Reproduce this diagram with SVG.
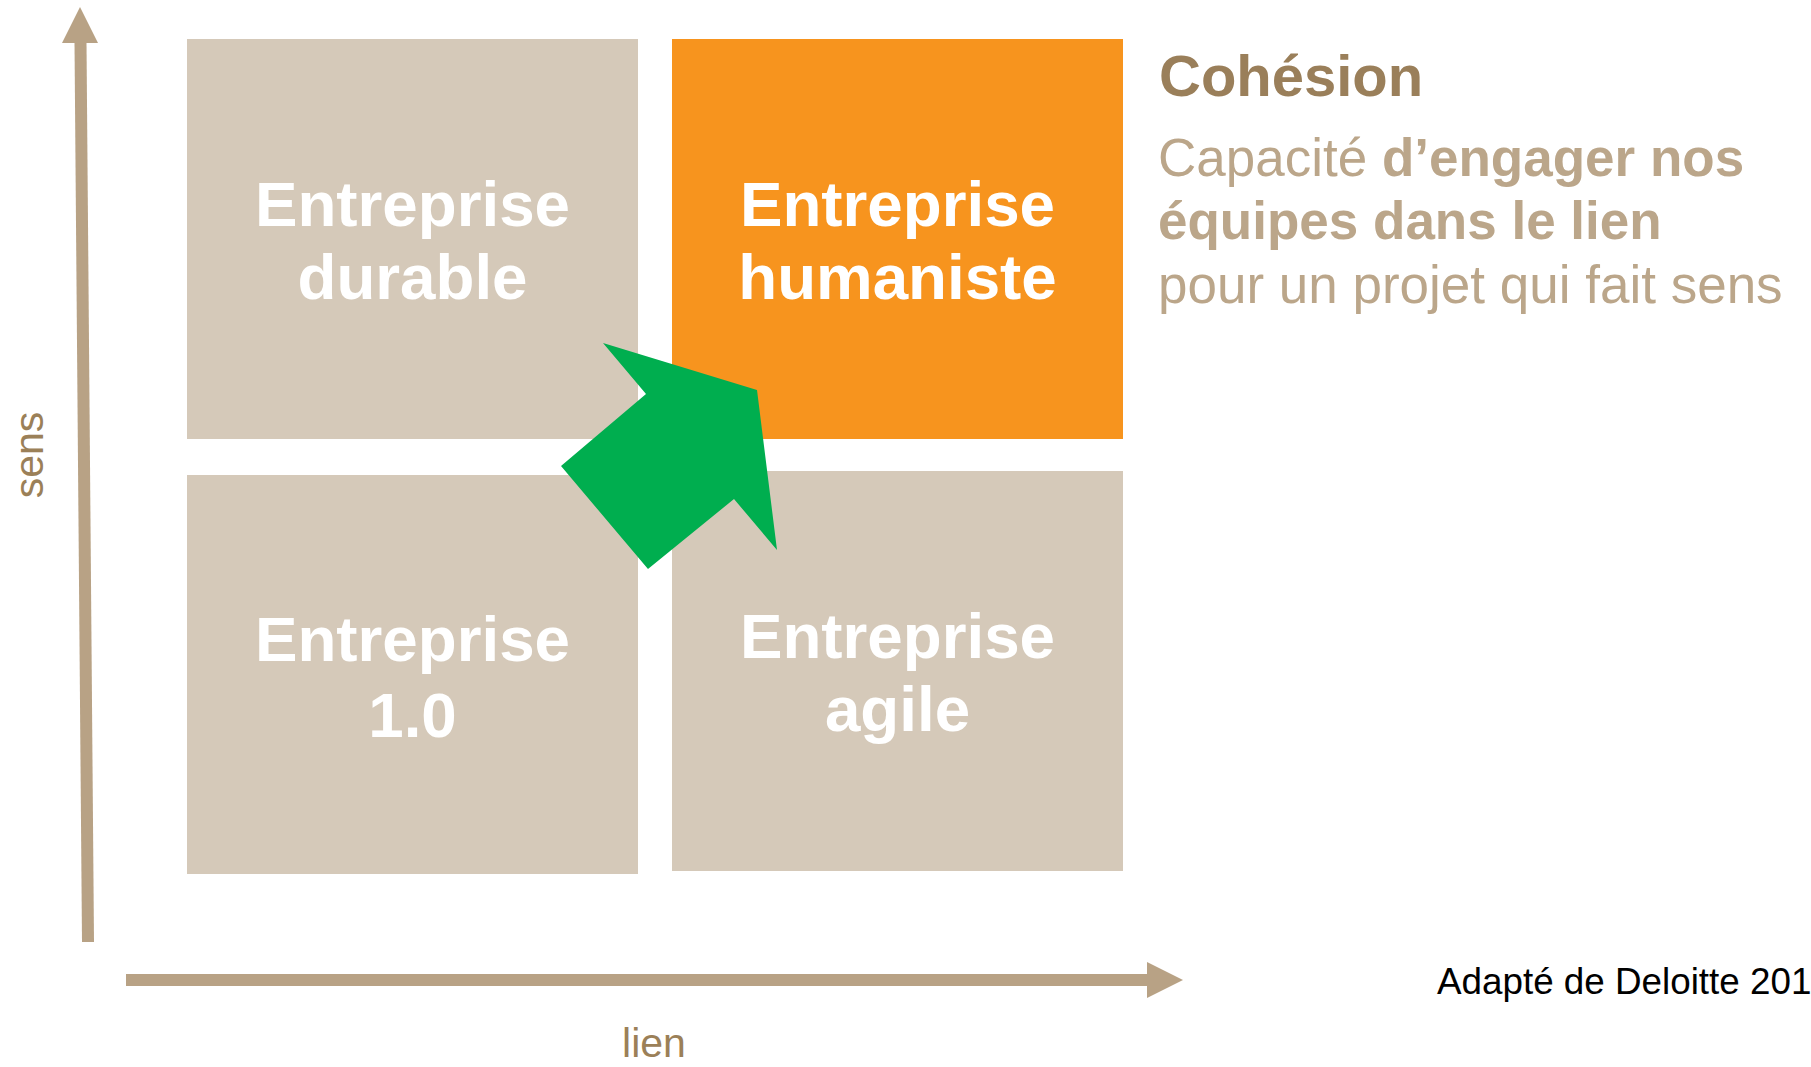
<svg xmlns="http://www.w3.org/2000/svg" width="1811" height="1067" viewBox="0 0 1811 1067">
<style>
.box{fill:#D5C9B9}
.hl{fill:#F7941E}
.bt{font-family:"Liberation Sans",Arial,sans-serif;font-weight:bold;font-size:63.7px;fill:#FFFFFF;text-anchor:middle}
.ax{fill:#B8A285}
.axl{font-family:"Liberation Sans",Arial,sans-serif;font-size:41px;fill:#9B8058}
.side{font-family:"Liberation Sans",Arial,sans-serif;font-size:53px;fill:#BBA68A}
</style>
<rect width="1811" height="1067" fill="#FFFFFF"/>
<g id="axes">
<polygon class="ax" points="74.5,43 86.5,43 94,942 82,942"/>
<polygon class="ax" points="80,7 98,43 62,43"/>
<rect class="ax" x="126" y="974" width="1022" height="12"/>
<polygon class="ax" points="1183,980 1147,962 1147,998"/>
<text class="axl" transform="translate(43,455) rotate(-90)" text-anchor="middle">sens</text>
<text class="axl" x="654" y="1057" text-anchor="middle">lien</text>
</g>
<g id="node-durable">
<rect class="box" x="187" y="39" width="451" height="400"/>
<text class="bt" x="412.5" y="226">Entreprise</text>
<text class="bt" x="412.5" y="299">durable</text>
</g>
<g id="node-humaniste">
<rect class="hl" x="672" y="39" width="451" height="400"/>
<text class="bt" x="897.5" y="226">Entreprise</text>
<text class="bt" x="897.5" y="299">humaniste</text>
</g>
<g id="node-1-0">
<rect class="box" x="187" y="475" width="451" height="399"/>
<text class="bt" x="412.5" y="661">Entreprise</text>
<text class="bt" x="412.5" y="737">1.0</text>
</g>
<g id="node-agile">
<rect class="box" x="672" y="471" width="451" height="400"/>
<text class="bt" x="897.5" y="658">Entreprise</text>
<text class="bt" x="897.5" y="731">agile</text>
</g>
<g id="connectors">
<polygon fill="#00AE4F" points="603,343 757,390 777,550 734,499 648,569 561,466 646,394"/>
</g>
<g id="legend">
<text x="1159" y="96" font-family="'Liberation Sans',Arial,sans-serif" font-weight="bold" font-size="58" fill="#9A7F5A">Cohésion</text>
<text class="side" x="1158" y="176">Capacité <tspan font-weight="bold">d’engager nos</tspan></text>
<text class="side" x="1158" y="239" font-weight="bold">équipes dans le lien</text>
<text class="side" x="1158" y="303">pour un projet qui fait sens</text>
<text x="1437" y="994" font-family="'Liberation Sans',Arial,sans-serif" font-size="36.8" fill="#000000">Adapté de Deloitte 201</text>
</g>
</svg>
